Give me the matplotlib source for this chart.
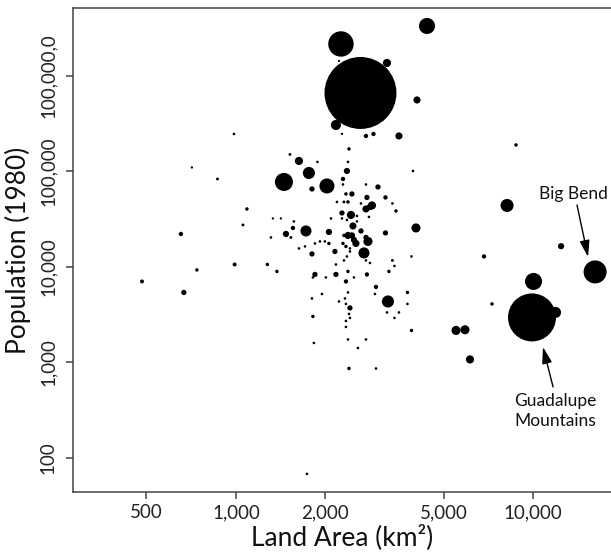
import matplotlib
matplotlib.use("Agg")
import matplotlib.pyplot as plt
import numpy as np

plt.rcParams['font.family'] = ['Lato', 'DejaVu Sans']

# land area (km2), population (1980), weight (circle area, arbitrary units)
area = [2626, 2257, 4397, 3224, 2171, 4069, 3538, 2904, 2740, 2402,
        985, 711, 867, 1089, 1056, 653, 990, 1276, 1374, 739,
        483, 668, 1312, 1332, 1417, 1520, 1630, 1761, 1451, 1803,
        2025, 1881, 2383, 2364, 2293, 2293, 2740, 3007, 3187, 3945,
        3457, 3364, 2458, 2346, 2310, 2383, 2188, 2761, 2826, 2870,
        2740, 2636, 2439, 2275, 2555, 2555, 2477, 2804, 2364, 2056,
        1721, 1556, 1474, 1531, 1567, 2089, 2275, 2383, 2458, 2496,
        2535, 2310, 2293, 2346, 2420, 2636, 2783, 2740, 2698, 2740,
        2826, 3187, 4037, 3899, 3364, 3417, 3273, 2154, 2056, 1993,
        1918, 1845, 1630, 1708, 1803, 2171, 2420, 2364, 2310, 1845,
        1816, 2008, 2171, 2383, 2346, 2496, 2761, 2961, 2938, 3249,
        3780, 3780, 3538, 3417, 3224, 2420, 2346, 2223, 2402, 2420,
        2346, 2346, 2383, 2328, 1948, 1803, 1816, 1830, 2383, 2574,
        2740, 3899, 2402, 2961, 1734, 2275, 2223,
        8766, 8178, 12430, 6839, 16180, 10040, 9922, 11906, 7278, 5506,
        5902, 6136]
population = [663600, 2163000, 3338000, 1368000, 306800, 560800, 235300, 247000, 235300, 172100,
              247000, 110100, 83450, 40470, 27540, 22160, 10620, 10620, 8977, 9310,
              7050, 5410, 20370, 32210, 32210, 150700, 128800, 96400, 77620, 65600,
              70470, 125800, 125800, 101200, 83450, 73060, 73060, 68800, 53430, 101200,
              38580, 46240, 58140, 58140, 47950, 47950, 47950, 53430, 42480, 44050,
              40470, 46240, 35040, 36750, 34200, 29950, 26880, 33390, 31050, 23250,
              23820, 25610, 22160, 20370, 29950, 32210, 32210, 21380, 21380, 19180,
              17620, 21380, 17620, 16400, 15630, 23820, 18500, 20370, 14020, 11700,
              11010, 22700, 25610, 12880, 11700, 10240, 8977, 14530, 17620, 18500,
              18500, 17620, 15630, 16400, 13680, 10620, 14530, 12880, 11700, 8346,
              7763, 7763, 8346, 8977, 7050, 7763, 8346, 6180, 5210, 4350,
              5410, 4100, 3339, 2924, 3339, 3723, 4100, 4350, 3221, 2924,
              2721, 2355, 5410, 4677, 5210, 4677, 3033, 1600, 1741, 1418,
              1741, 2163, 865, 865, 68, 247000, 1436000,
              189500, 44050, 16500, 12880, 8870, 7050, 2960, 3339, 4100, 2163,
              2200, 1075]
weight = [1296, 161, 64, 16, 25, 12, 12, 4, 4, 2.3,
          1, 0.6, 1.4, 2.3, 1.4, 4, 3.2, 2.3, 2.3, 2.3,
          3.2, 6.3, 1, 0.6, 0.6, 1.4, 16, 36, 81, 6.3,
          56, 1, 1, 9, 4, 1, 1, 6.3, 4, 1,
          2.3, 1, 6.3, 2.3, 1.4, 2.3, 1, 6.3, 9, 16,
          12, 1, 16, 6.3, 1, 1, 12, 1, 1, 9,
          30, 4, 9, 1.4, 1, 1, 1, 12, 9, 9,
          12, 2.3, 2.3, 2.3, 1, 6.3, 20, 6.3, 30, 1,
          1, 6.3, 20, 1, 1.4, 1, 2.3, 6.3, 2.3, 1,
          1, 1, 1, 1, 6.3, 1, 1, 1, 1, 6.3,
          1, 1, 6.3, 2.3, 4, 1, 4, 4, 1, 36,
          2.3, 1, 1, 1, 1, 6.3, 1, 1, 1, 1,
          1, 1, 1, 1, 1, 1, 2.3, 1, 1, 1,
          1, 2.3, 2.3, 1, 1, 0.6, 0.6,
          2.3, 42, 9, 4, 132, 72, 576, 30, 2.3, 20,
          20, 16]

xticks = [500, 1000, 2000, 5000, 10000]
xlabels = ['500', '1,000', '2,000', '5,000', '10,000']
yticks = [100, 1000, 10000, 100000, 1000000]
ylabels = ['100', '1,000', '10,000', '100,000', '100,000,0']

fig = plt.figure(figsize=(6.11, 5.59), dpi=100)
ax = fig.add_axes([0.1195, 0.1199, 0.8805, 0.8658])

sizes = np.array(weight) * 2.07 + 1.5
ax.scatter(area, population, s=sizes, color='black', edgecolors='none')

ax.set_xscale('log')
ax.set_yscale('log')
ax.set_xlim(283, 18300)
ax.set_ylim(44, 5150000)

ax.set_xticks(xticks)
ax.set_xticklabels(xlabels)
ax.set_yticks(yticks)
ax.set_yticklabels(ylabels, rotation=90, va='center')
ax.minorticks_off()

ax.spines['right'].set_visible(False)
for side in ['left', 'top', 'bottom']:
    ax.spines[side].set_color('#444444')
    ax.spines[side].set_linewidth(1.1)
ax.tick_params(axis='both', direction='out', length=5, width=1.1, color='#444444',
               labelsize=13.5, labelcolor='#222222')
ax.tick_params(axis='x', pad=4)
ax.tick_params(axis='y', pad=7)

ax.set_xlabel('Land Area (km²)', fontsize=19, color='#111111', labelpad=2)
ax.set_ylabel('Population (1980)', fontsize=19, color='#111111', labelpad=6)

arrow = dict(arrowstyle='-|>,head_length=1.0,head_width=0.3', color='black', lw=1.0,
             shrinkA=0, shrinkB=0)
ax.text(13640, 58140, 'Big Bend', fontsize=12.5, ha='center', va='center', color='#111111')
ax.annotate('', xy=(15320, 12730), xytext=(14060, 44570), arrowprops=arrow)
ax.text(11860, 310, 'Guadalupe\nMountains', fontsize=12.5, ha='center', va='center',
        color='#111111', linespacing=1.3)
ax.annotate('', xy=(10800, 1452), xytext=(11680, 554), arrowprops=arrow)

fig.savefig('out.png', dpi=100)
